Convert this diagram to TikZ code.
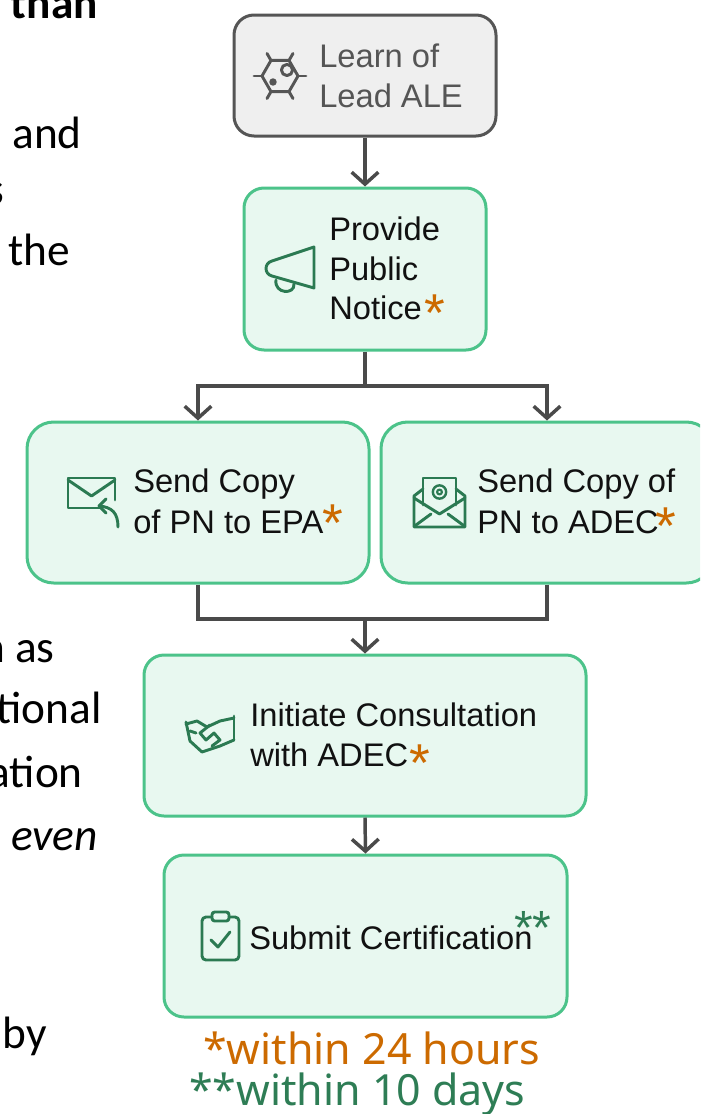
\documentclass[tikz,border=0pt]{standalone}
\usepackage{fontspec}
\setmainfont{Liberation Sans}
\newfontfamily\sidefont{Carlito}
\newfontfamily\notefont{Noto Sans}
\usetikzlibrary{arrows.meta}
\definecolor{boxgreen}{HTML}{4CC38A}
\definecolor{fillgreen}{HTML}{E8F8F0}
\definecolor{icongreen}{HTML}{2B7A52}
\definecolor{starorange}{HTML}{CC6A00}
\definecolor{notegreen}{HTML}{2E7D55}
\definecolor{linegray}{HTML}{4A4A4A}
\definecolor{boxgray}{HTML}{555555}
\definecolor{fillgray}{HTML}{EFEFEF}
\definecolor{textdark}{HTML}{111111}
\begin{document}
\begin{tikzpicture}[x=0.75pt,y=-0.75pt,
  gbox/.style={draw=boxgreen,fill=fillgreen,line width=2.25pt,rounded corners=15pt,inner sep=0pt},
  graybox/.style={draw=boxgray,fill=fillgray,line width=2.25pt,rounded corners=15pt,inner sep=0pt},
  lbl/.style={anchor=base west,inner sep=0pt,text=textdark,font=\fontsize{24.5}{30}\selectfont},
  ast/.style={anchor=base,inner sep=0pt,text=starorange,font=\fontsize{40}{40}\selectfont},
  conn/.style={draw=linegray,line width=2.6pt},
  arr/.style={conn,-{Straight Barb[length=9pt,width=20pt]}},
  icon/.style={draw=icongreen,line width=2.2pt,line cap=round,line join=round},
  sidetext/.style={anchor=base east,inner sep=0pt,text=black,font=\sidefont\fontsize{34}{40}\selectfont},
  note/.style={anchor=base west,inner sep=0pt,font=\notefont\fontsize{32.2}{32}\selectfont}
]
\useasboundingbox (0,0) rectangle (700,1114);
\clip (0,0) rectangle (700,1114);

% side text fragments
\node[sidetext] (s1) at (98,18) {\bfseries than};
\node[sidetext] (s2) at (82,148) {and};
\node[sidetext] (s3) at (4,204) {s};
\node[sidetext] (s4) at (70,265) {the};
\node[sidetext] (s5) at (55,662) {n as};
\node[sidetext] (s6) at (102,723) {tional};
\node[sidetext] (s7) at (83,787) {ation};
\node[sidetext] (s8) at (98,850) {\itshape even};
\node[sidetext] (s9) at (47,1048) {by};

% boxes
\node[graybox,minimum width=196.5pt,minimum height=90.75pt] (b1) at (365,75.5) {};
\node[gbox,minimum width=181.5pt,minimum height=121.5pt] (b2) at (365,269) {};
\node[gbox,rounded corners=20pt,minimum width=256.5pt,minimum height=120.75pt] (b3) at (198,502.5) {};
\node[gbox,rounded corners=20pt,minimum width=249pt,minimum height=120.75pt] (b4) at (547,502.5) {};
\node[gbox,minimum width=331.5pt,minimum height=120.75pt] (b5) at (365,735.5) {};
\node[gbox,minimum width=302.25pt,minimum height=121.5pt] (b6) at (365.5,936) {};

% connectors
\coordinate (split) at (365,386);
\coordinate (merge) at (365,619);
\draw[arr] (b1.south) -- (b2.north);
\draw[conn] (b2.south) -- (split);
\draw[arr] (split) -| (b3.north);
\draw[arr] (split) -| (b4.north);
\draw[conn] (b3.south) |- (merge);
\draw[conn] (b4.south) |- (merge);
\draw[arr] (merge) -- (b5.north);
\draw[arr] (b5.south) -- (b6.north);

% box 1 text and icon
\node[lbl,text=boxgray] (t1a) at (319,67) {Learn of};
\node[lbl,text=boxgray] (t1b) at (319,107) {Lead ALE};
\draw[icon,draw=boxgray] ([shift={(0:18)}]280,76)
  \foreach \a in {60,120,...,300} { -- ([shift={(\a:18)}]280,76) } -- cycle;
\foreach \a in {0,60,...,300}
  \draw[icon,draw=boxgray] ([shift={(\a:18)}]280,76) -- ([shift={(\a:26)}]280,76);
\draw[icon,draw=boxgray] (287,70) circle[radius=4.2pt];
\fill[boxgray] (273,82) circle[radius=2.8pt];

% box 2
\node[lbl] (t2a) at (329,240) {Provide};
\node[lbl] (t2b) at (329,280) {Public};
\node[lbl] (t2c) at (329,319) {Notice};
\node[ast] (a2) at (435,331) {*};
\draw[icon] (314,247) -- (314,288) -- (272,276) .. controls (264,274) and (264,263) .. (272,261) -- cycle;
\draw[icon] (276,280) .. controls (274,294) and (295,295) .. (294,284);

% box 3
\node[lbl] (t3a) at (133,492) {Send Copy};
\node[lbl] (t3b) at (133,533) {of PN to EPA};
\node[ast] (a3) at (333,541) {*};
\draw[icon] (100,508) -- (68,508) -- (68,478) -- (115,478) -- (115,500);
\draw[icon] (68,480) -- (91.5,496) -- (115,480);
\draw[icon] (118,527) .. controls (118,513) and (112,507) .. (99,506);
\draw[icon] (106,499) -- (99,506) -- (106,513);

% box 4
\node[lbl] (t4a) at (477,492) {Send Copy of};
\node[lbl] (t4b) at (477,533) {PN to ADEC};
\node[ast] (a4) at (666,544) {*};
\draw[icon] (423,505) -- (423,478) -- (456,478) -- (456,505);
\draw[icon] (423,489) -- (414,496) -- (414,527) -- (465,527) -- (465,496) -- (456,489);
\draw[icon] (414,498) -- (439.5,514);
\draw[icon] (465,498) -- (439.5,514);
\draw[icon] (416,525) -- (431,514);
\draw[icon] (463,525) -- (448,514);
\draw[icon,line width=1.8pt] (439.5,492) circle[radius=5pt];
\draw[icon,line width=1.6pt] (439.5,492) circle[radius=1.8pt];

% box 5
\node[lbl] (t5a) at (250,726) {Initiate Consultation};
\node[lbl] (t5b) at (250,766) {with ADEC};
\node[ast] (a5) at (420,781) {*};
\draw[icon] (186,724) -- (197,721) -- (207,727) -- (220,721) -- (234,718);
\draw[icon] (234,716) -- (234,740);
\draw[icon] (186,722) -- (190,741) -- (202,752) -- (220,746) -- (234,740);
\draw[icon] (210,725) -- (200,733) -- (206,740) -- (214,733) -- (220,740) -- (212,746);
\draw[icon] (190,731) -- (196,733);

% box 6
\node[lbl] (t6) at (249,949) {Submit Certification};
\node[ast,text=notegreen,font=\fontsize{36}{36}\selectfont] (a6) at (533,944) {**};
\draw[icon,rounded corners=3pt] (212,917) -- (202,917) -- (202,960) -- (239,960) -- (239,917) -- (229,917);
\draw[icon,rounded corners=2pt] (212,912) rectangle (229,921);
\draw[icon] (211,940) -- (218,947) -- (230,932);

% notes
\node[note,text=starorange] (n1) at (203,1064) {*within 24 hours};
\node[note,text=notegreen] (n2) at (189,1105) {**within 10 days};
\end{tikzpicture}
\end{document}
